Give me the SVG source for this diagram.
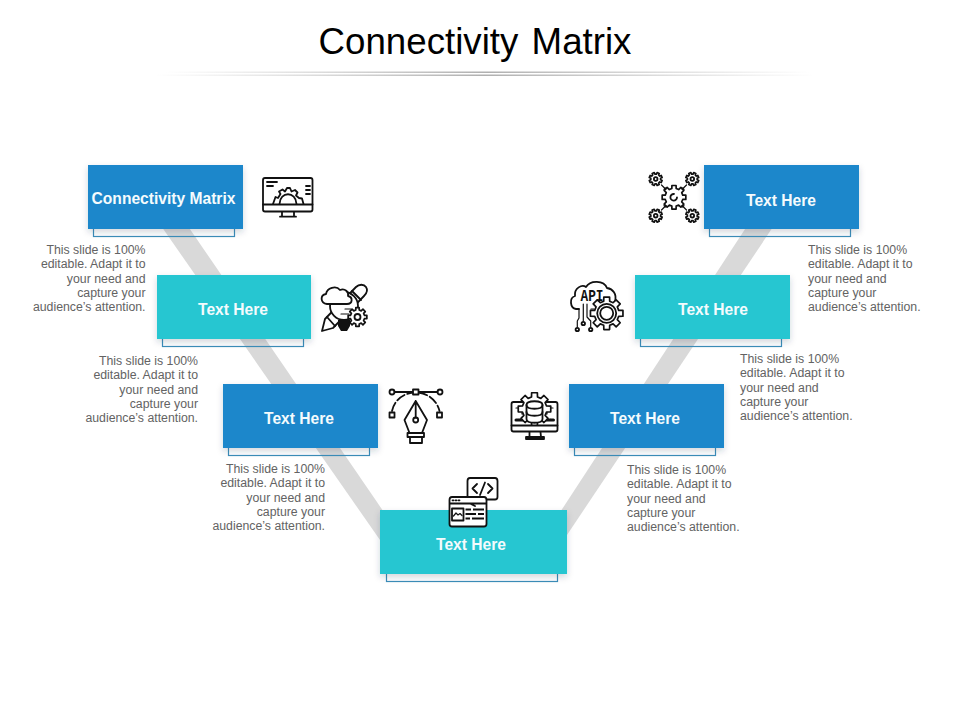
<svg xmlns="http://www.w3.org/2000/svg" xmlns:xlink="http://www.w3.org/1999/xlink" width="960" height="720" viewBox="0 0 960 720">
<style>
.blue{fill:#1e87cb}
.teal{fill:#26c6d1}
.box{filter:url(#sh)}
.tab{fill:none;stroke:#3b8db9;stroke-width:1.2}
.lbl{font:bold 15.6px "Liberation Sans",Arial,sans-serif;fill:#f4fbfd;text-anchor:middle}
.d{font:12.3px "Liberation Sans",Arial,sans-serif;fill:#636363}
.r{text-anchor:end}
.ic{fill:none;stroke:#111;stroke-width:1.8;stroke-linecap:round;stroke-linejoin:round}
.ic .w{fill:#fff}
.ic .t{stroke-width:1.2}
.ic .k{fill:#111;stroke:none}
.g{fill:#fff;stroke:#111;stroke-width:1.7;stroke-linejoin:round;vector-effect:non-scaling-stroke}
</style>
<defs>
<filter id="sh" x="-10%" y="-10%" width="120%" height="140%"><feDropShadow dx="0" dy="3" stdDeviation="3" flood-color="#1a3a50" flood-opacity="0.2"/></filter>
<linearGradient id="rule"><stop offset="0" stop-color="#bbb" stop-opacity="0"/><stop offset="0.5" stop-color="#b0b0b0"/><stop offset="1" stop-color="#bbb" stop-opacity="0"/></linearGradient>
<polygon id="gear" class="g" points="7.28,-1.81 9.85,-1.74 9.85,1.74 7.28,1.81 6.43,3.87 8.19,5.73 5.73,8.19 3.87,6.43 1.81,7.28 1.74,9.85 -1.74,9.85 -1.81,7.28 -3.87,6.43 -5.73,8.19 -8.19,5.73 -6.43,3.87 -7.28,1.81 -9.85,1.74 -9.85,-1.74 -7.28,-1.81 -6.43,-3.87 -8.19,-5.73 -5.73,-8.19 -3.87,-6.43 -1.81,-7.28 -1.74,-9.85 1.74,-9.85 1.81,-7.28 3.87,-6.43 5.73,-8.19 8.19,-5.73 6.43,-3.87"/>
</defs>
<rect width="960" height="720" fill="#fff"/>
<text x="475" y="54" font-family="'Liberation Sans',Arial,sans-serif" font-size="36.7" text-anchor="middle" word-spacing="3" fill="#000">Connectivity Matrix</text>
<rect x="165" y="71.500" width="645" height="1.500" fill="url(#rule)"/>
<rect x="155" y="74.500" width="660" height="1.500" fill="url(#rule)"/>
<g id="connectors" fill="#d9d9d9">
<polygon points="143,200 170,200 390,521 390,540 380,540"/>
<polygon points="764,200 791,200 567,535 555,535 555,520"/>
</g>
<g id="node-1">
<rect class="tab" x="93.500" y="225" width="141" height="11.500"/>
<rect class="box blue" x="88" y="165" width="155" height="64"/>
<text class="lbl" x="163.500" y="203.500">Connectivity Matrix</text>
<text class="d r"><tspan x="145.500" y="254">This slide is 100%</tspan><tspan x="145.500" y="268.300">editable. Adapt it to</tspan><tspan x="145.500" y="282.600">your need and</tspan><tspan x="145.500" y="296.900">capture your</tspan><tspan x="145.500" y="311.200">audience’s attention.</tspan></text>
<g class="ic">
<rect x="263" y="178" width="49.500" height="33.500" rx="2"/>
<path d="M263 204.500H312.500M282 212V216.500M294 212V216.500M280 216.700H296"/>
<path d="M267 182H277M267 186H273M306 186H310M306 190H310M306 194H310"/>
<path d="M273 204 275.500 197 278 198 280.500 194 279 191.500 282.500 189.500 285 191.500 287 188 290 188 291.500 191.500 295 190 297.500 192.500 296 195.500 299 198 302 198.500 303.500 204"/>
<path d="M279.500 204C280 191 296 191 296.500 204"/>
</g>
</g>
<g id="node-2">
<rect class="tab" x="162.500" y="335" width="141" height="11.500"/>
<rect class="box teal" x="157" y="275" width="154" height="64"/>
<text class="lbl" x="233" y="314.800">Text Here</text>
<text class="d r"><tspan x="198" y="365">This slide is 100%</tspan><tspan x="198" y="379.300">editable. Adapt it to</tspan><tspan x="198" y="393.600">your need and</tspan><tspan x="198" y="407.900">capture your</tspan><tspan x="198" y="422.200">audience’s attention.</tspan></text>
<g class="ic">
<path class="w" d="M325 319 356 287C359 284 364 284 366 287 368 290 367 293 364 296L333 328 322 331Z"/>
<path d="M327 317 335 326M352 291 361 300"/>
<circle class="w" cx="344" cy="306" r="14"/>
<path class="k" d="M338 320H350V326L347 331H341L338 326Z"/>
<path class="w" d="M327 304C320 303 320 295 326 294 327 288 336 285 340 290 345 288 349 292 348 296 353 297 353 304 347 304Z"/>
<path class="t" d="M345 309H351M341 314H349"/>
<use xlink:href="#gear" href="#gear" transform="translate(357.500 317) scale(.95)"/>
<circle cx="357.500" cy="317" r="3"/>
</g>
</g>
<g id="node-3">
<rect class="tab" x="228.500" y="444" width="141" height="11.500"/>
<rect class="box blue" x="223" y="384" width="155" height="64"/>
<text class="lbl" x="299" y="423.800">Text Here</text>
<text class="d r"><tspan x="325" y="473">This slide is 100%</tspan><tspan x="325" y="487.300">editable. Adapt it to</tspan><tspan x="325" y="501.600">your need and</tspan><tspan x="325" y="515.900">capture your</tspan><tspan x="325" y="530.200">audience’s attention.</tspan></text>
<g class="ic">
<path d="M394.500 392H413M418.500 392H437.500" stroke-width="2"/>
<path d="M392 411C394 401 402 394 413 392.500M418.500 392.500C429 394 437 401 439.500 411" stroke-dasharray="9 3"/>
<circle cx="392" cy="392" r="2.500"/><circle cx="440" cy="392" r="2.500"/>
<rect x="413" y="389.500" width="5.500" height="5" class="w"/>
<rect x="389.500" y="412.500" width="5" height="5" class="w"/><rect x="437" y="412.500" width="5" height="5" class="w"/>
<path d="M415.700 401 404.500 420 409.500 433H422L427 420ZM415.700 401V417.500"/>
<circle cx="415.700" cy="420" r="2.500"/>
<path d="M407.500 433H424V437H407.500ZM410 437H422V443H410Z"/>
</g>
</g>
<g id="node-4">
<rect class="tab" x="386.500" y="570" width="171" height="11.500"/>
<rect class="box teal" x="380" y="510" width="187" height="64"/>
<text class="lbl" x="471" y="549.800">Text Here</text>
<g class="ic">
<path class="w" d="M470 478H495C497 478 497.500 479 497.500 481V497C497.500 499 497 499.500 495 499.500H482L475 506V499.500H470C468 499.500 467.500 499 467.500 497V481C467.500 479 468 478 470 478Z"/>
<path class="w" d="M452 497H484C486 497 486.500 498 486.500 500V524C486.500 526 486 526.500 484 526.500H452C450 526.500 449.500 526 449.500 524V500C449.500 498 450 497 452 497Z"/>
<path d="M477 484 472.500 488.500 477 493M488 484 492.500 488.500 488 493M485 482.500 480 495"/>
<path d="M450 503.500H486M452.500 500.300H453.500M455.500 500.300H456.500M458.500 500.300H459.500M470 503.500 475 506"/>
<rect x="452" y="508.500" width="11.500" height="12"/>
<path class="t" d="M453.500 516 456 513 458 515 460 513.500 462 515.500"/>
<path d="M465.500 509.500H471M473 509.500H484M465.500 514H476M478 514H484M465.500 518.500H470M472 518.500H484" stroke-linecap="butt"/>
</g>
</g>
<g id="node-5">
<rect class="tab" x="574.500" y="444" width="141" height="11.500"/>
<rect class="box blue" x="569" y="384" width="155" height="64"/>
<text class="lbl" x="645" y="423.800">Text Here</text>
<text class="d"><tspan x="627" y="474">This slide is 100%</tspan><tspan x="627" y="488.300">editable. Adapt it to</tspan><tspan x="627" y="502.600">your need and</tspan><tspan x="627" y="516.900">capture your</tspan><tspan x="627" y="531.200">audience’s attention.</tspan></text>
<g class="ic">
<rect x="511.500" y="402" width="46" height="29.500" rx="2"/>
<path d="M511.500 425.500H557.500M529.500 432V437M540.500 432 541 437M526 439H544V437H526Z"/>
<path class="t" d="M516 408H522V414H527M553 408H547V414H542"/>
<path d="M516 420H526M544 420H554" stroke-width="3" stroke-dasharray="2.500 1"/>
<use xlink:href="#gear" href="#gear" transform="translate(534.500 409) scale(1.650)"/>
<path class="w" d="M526.500 405C526.500 400 542.500 400 542.500 405V419C542.500 424 526.500 424 526.500 419Z"/>
<path d="M526.500 405C526.500 410 542.500 410 542.500 405M526.500 412C526.500 417 542.500 417 542.500 412"/>
</g>
</g>
<g id="node-6">
<rect class="tab" x="640.500" y="335" width="141" height="11.500"/>
<rect class="box teal" x="635" y="275" width="155" height="64"/>
<text class="lbl" x="713" y="314.800">Text Here</text>
<text class="d"><tspan x="740" y="363">This slide is 100%</tspan><tspan x="740" y="377.300">editable. Adapt it to</tspan><tspan x="740" y="391.600">your need and</tspan><tspan x="740" y="405.900">capture your</tspan><tspan x="740" y="420.200">audience’s attention.</tspan></text>
<g class="ic">
<path d="M579 309H576C570 308 569 298 575 296 574 288 582 284 586 287 590 280 604 280 607 288 613 289 617 294 615 301"/>
<use xlink:href="#gear" href="#gear" transform="translate(606.700 313.300) scale(1.650)"/>
<circle cx="606.700" cy="313.300" r="9.500"/><circle cx="606.700" cy="313.300" r="6.500"/>
<path class="t" d="M579 309V318L577.300 321V327M583.300 304V321M587 304V317L590.700 321V327M591 309H594"/>
<circle cx="577.300" cy="329.500" r="1.700"/><circle cx="583.300" cy="323.500" r="1.700"/><circle cx="590.700" cy="329.500" r="1.700"/>
</g>
<text x="592" y="301" font-family="'Liberation Mono',monospace" font-size="16" text-anchor="middle" textLength="23" lengthAdjust="spacingAndGlyphs" fill="#111" font-weight="bold">API</text>
</g>
<g id="node-7">
<rect class="tab" x="709.500" y="225" width="141" height="11.500"/>
<rect class="box blue" x="704" y="165" width="155" height="64"/>
<text class="lbl" x="781" y="205.800">Text Here</text>
<text class="d"><tspan x="808" y="254">This slide is 100%</tspan><tspan x="808" y="268.300">editable. Adapt it to</tspan><tspan x="808" y="282.600">your need and</tspan><tspan x="808" y="296.900">capture your</tspan><tspan x="808" y="311.200">audience’s attention.</tspan></text>
<g class="ic">
<use xlink:href="#gear" href="#gear" transform="translate(674 197.300) scale(1.200)"/>
<path d="M677 197.300A3.300 3.300 0 1 1 674 194"/>
<use xlink:href="#gear" href="#gear" transform="translate(655.700 179) rotate(22.500) scale(.66)"/><circle cx="655.700" cy="179" r="1.800"/>
<use xlink:href="#gear" href="#gear" transform="translate(692.300 179) rotate(22.500) scale(.66)"/><circle cx="692.300" cy="179" r="1.800"/>
<use xlink:href="#gear" href="#gear" transform="translate(655.700 215.700) rotate(22.500) scale(.66)"/><circle cx="655.700" cy="215.700" r="1.800"/>
<use xlink:href="#gear" href="#gear" transform="translate(692.300 215.700) rotate(22.500) scale(.66)"/><circle cx="692.300" cy="215.700" r="1.800"/>
<path class="t" d="M661.500 185 665 188.500M686.500 185 683 188.500M661.500 210 665 206.500M686.500 210 683 206.500"/>
<path class="k" d="M666.500 190 663 189.500 665.500 187ZM681.500 190 685 189.500 682.500 187ZM666.500 205 663 205.500 665.500 208ZM681.500 205 685 205.500 682.500 208Z"/>
</g>
</g>
</svg>
